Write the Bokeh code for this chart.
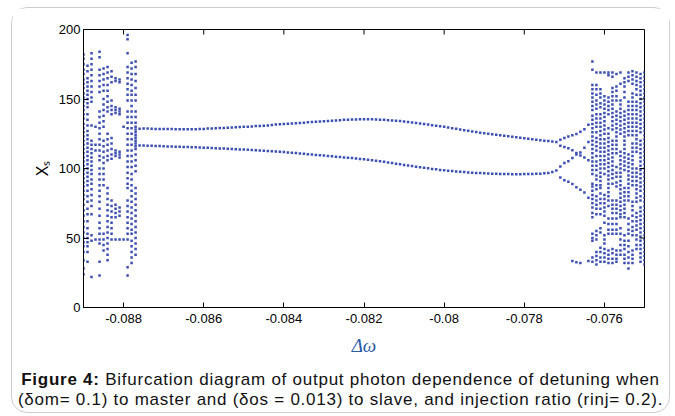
import math
from bokeh.plotting import figure
from bokeh.layouts import column
from bokeh.models import Range1d, FixedTicker, ColumnDataSource, Div
from bokeh.embed import file_html
from bokeh.resources import INLINE

# ---------------- data ----------------
step = 0.0001  # detuning sweep step

# chaotic band on the left: one string of X_s values per detuning column
left_x = [-0.0890, -0.0889, -0.0888, -0.0887, -0.0886, -0.0885, -0.0884,
          -0.0883, -0.0882, -0.0881, -0.0880, -0.0879, -0.0878, -0.0877]
left_cols = [
    "182 179 175 171 168 164 161 158 154 151 148 145 142 139 136 132 129 126 123 120 117 114 111 108 105 102 99 96 93 90 87 84 81 78 74 70 66 62 58 54 50 47 44 40 34 28 24",
    "174 170 165 162 159 156 153 150 147 144 139 135 131 127 124 121 118 115 112 109 106 103 100 97 94 91 88 84 80 76 71 67 62 57 53 50 47 44 40 33",
    "183 179 175 171 167 163 159 155 151 148 131 120 117 114 111 108 105 102 99 96 92 89 85 81 77 73 67 52 48 22",
    "130 117 113 49",
    "184 180 171 167 163 159 155 141 137 133 129 125 121 117 113 109 106 100 96 92 88 84 80 76 71 66 61 57 53 49 46 33 23",
    "172 168 164 160 156 150 146 142 138 134 130 120 116 112 108 104 100 96 92 88 53 49 45 41",
    "173 169 165 160 156 152 148 144 141 125 121 117 113 109 106 86 82 78 74 70 66 62 58 54 50 46 42 38 34",
    "170 166 162 149 145 142 139 122 118 114 110 107 77 73 69 65 61 57 53 49",
    "165 163 144 142 140 113 111 109 74 71 68 65 49",
    "164 162 143 141 139 112 110 108 72 69 66 49",
    "130 49",
    "196 193 183 173 169 165 161 157 153 149 141 137 133 129 125 121 117 113 109 105 101 97 93 89 86 77 73 69 65 61 57 53 49 29 23",
    "176 172 168 164 160 156 153 149 145 141 137 133 129 125 121 117 113 109 105 101 96 92 88 84 80 76 72 68 64 60 56 53 48 44 40 36 32",
    "177 173 168 163 158 153 149 141 137 133 130 128 126 124 122 120 118 116 114 110 106 102 98 86 82 78 74 70 66 62 58 54 50 46 42 38",
]

# period-2 window: detuning -0.0876 ... -0.0772
p2_start = -0.0876
p2_upper = [
    128.6, 128.8, 128.7, 128.6, 128.5, 128.5, 128.5, 128.4, 128.4, 128.3,
    128.3, 128.2, 128.2, 128.3, 128.3, 128.4, 128.5, 128.7, 128.8, 129.0,
    129.1, 129.2, 129.4, 129.5, 129.7, 129.8, 130.0, 130.1, 130.3, 130.5,
    130.6, 130.8, 131.0, 131.3, 131.6, 131.8, 132.0, 132.2, 132.4, 132.6,
    132.8, 133.0, 133.2, 133.4, 133.6, 133.8, 134.0, 134.2, 134.4, 134.6,
    134.8, 135.0, 135.1, 135.2, 135.3, 135.4, 135.5, 135.5, 135.4, 135.3,
    135.1, 135.0, 134.8, 134.6, 134.4, 134.1, 133.8, 133.5, 133.1, 132.8,
    132.4, 132.0, 131.6, 131.2, 130.8, 130.4, 130.0, 129.5, 129.0, 128.6,
    128.1, 127.6, 127.2, 126.7, 126.3, 125.8, 125.4, 125.0, 124.6, 124.2,
    123.9, 123.5, 123.2, 122.8, 122.5, 122.1, 121.7, 121.4, 121.0, 120.7,
    120.3, 120.0, 119.7, 119.4, 119.0]
p2_lower = [
    116.6, 116.5, 116.4, 116.3, 116.2, 116.1, 116.0, 115.9, 115.8, 115.7,
    115.6, 115.5, 115.4, 115.3, 115.2, 115.1, 115.0, 114.9, 114.7, 114.6,
    114.4, 114.3, 114.2, 114.0, 113.9, 113.7, 113.6, 113.4, 113.3, 113.1,
    113.0, 112.8, 112.6, 112.4, 112.2, 112.0, 111.8, 111.6, 111.3, 111.1,
    110.8, 110.6, 110.3, 110.1, 109.8, 109.6, 109.3, 109.0, 108.8, 108.5,
    108.3, 108.0, 107.7, 107.5, 107.2, 106.9, 106.6, 106.3, 105.9, 105.5,
    105.2, 104.8, 104.4, 104.0, 103.5, 103.1, 102.6, 102.2, 101.8, 101.3,
    100.9, 100.5, 100.1, 99.7, 99.4, 99.0, 98.7, 98.4, 98.2, 97.9,
    97.6, 97.4, 97.2, 97.0, 96.8, 96.7, 96.5, 96.4, 96.3, 96.2,
    96.1, 96.0, 96.0, 95.9, 95.9, 95.9, 96.0, 96.0, 96.1, 96.2,
    96.3, 96.5, 96.8, 97.4, 98.5]

# period-4 window: detuning -0.0771 ... -0.0764
p4_x = [-0.0771, -0.0770, -0.0769, -0.0768, -0.0767, -0.0766, -0.0765, -0.0764]
p4_b1 = [120.6, 122.0, 123.0, 124.0, 124.8, 126.4, 128.3, 131.4]
p4_b2 = [116.3, 115.4, 114.5, 113.2, 111.2, 109.3, 107.9, 106.0]
p4_b3 = [101.5, 104.0, 105.2, 107.5, 110.0, 111.5, 115.0, 119.0]
p4_b4 = [93.5, 91.5, 90.4, 88.8, 86.5, 84.7, 82.7, 79.0]
low_x = [-0.0768, -0.0767, -0.0766, -0.0764]
low_y = [33.5, 32.5, 32.0, 33.5]

# chaotic band on the right
right_x = [-0.0763, -0.0762, -0.0761, -0.0760, -0.0759, -0.0758, -0.0757,
           -0.0756, -0.0755, -0.0754, -0.0753, -0.0752, -0.0751, -0.0750]
right_cols = [
    "177 171 160 157 154 151 148 145 142 138 135 132 129 126 123 120 117 114 111 108 105 102 99 96 89 87 84 81 78 75 72 68 65 53 50 48 36 33",
    "169 160 157 153 149 146 143 139 136 133 130 126 122 119 116 113 109 105 102 99 95 92 88 85 80 77 74 71 67 55 52 49 40 37 34 31",
    "169 157 154 151 147 144 139 136 133 130 127 124 121 118 115 112 109 106 103 100 97 94 91 88 86 82 78 75 71 67 57 54 43 40 36 33",
    "169 152 149 146 143 140 137 134 131 128 125 121 118 115 112 109 106 103 100 96 81 78 75 72 69 66 61 52 49 46 42 39 36 33",
    "169 167 151 148 145 142 139 129 125 122 119 116 113 110 107 104 101 98 95 92 89 86 83 80 77 73 64 60 56 53 41 38 35 32",
    "169 166 158 155 152 149 146 143 140 137 134 131 128 120 117 114 111 108 105 102 99 96 93 89 77 74 71 68 64 60 56 53 42 39 35 32",
    "168 159 156 152 149 141 138 135 132 129 126 123 120 117 114 111 101 97 94 90 87 77 74 71 68 64 60 56 53 41 38 35 33",
    "169 161 149 146 143 140 137 134 131 128 125 112 109 106 103 100 97 94 91 88 85 82 79 76 73 70 67 65 57 53 49 45 41 38",
    "165 162 159 155 151 141 138 135 132 129 126 123 120 117 114 111 108 105 102 99 86 83 80 77 74 71 68 65 52 48 45 42 38 35 32",
    "169 166 163 148 145 142 139 136 133 130 127 124 110 107 104 101 98 95 92 89 86 83 80 77 64 60 56 53 48 44 40 36 32 28",
    "170 167 164 161 154 151 148 145 142 139 136 133 130 127 124 118 115 112 109 106 103 100 97 94 91 88 76 73 70 66 62 58 55 52 41 38 35 32",
    "169 166 163 160 157 153 148 145 142 139 136 133 130 127 124 121 118 115 112 100 97 94 91 88 85 82 79 76 68 65 62 59 56 52 49 45 42",
    "168 165 162 159 156 153 150 147 144 141 138 135 132 129 126 120 117 114 111 108 105 102 99 96 93 90 87 84 80 77 72 69 66 63 60 57 54 51 48 45 42 39 36 33",
    "169 166 163 160 157 154 151 148 145 142 139 136 133 130 127 124 121 118 115 112 109 106 103 100 97 94 91 88 85 82 79 76 73 70 67 64 61 58 55 52 49 46 43 40 37 34 31",
]

x_ticks = [-0.088, -0.086, -0.084, -0.082, -0.080, -0.078, -0.076]
x_tick_labels = ["-0.088", "-0.086", "-0.084", "-0.082", "-0.08", "-0.078", "-0.076"]
y_ticks = [0, 50, 100, 150, 200]
x_lo, x_hi = -0.089, -0.075
y_lo, y_hi = 0, 200

x_title = "Δω"
y_title = "X\u209b"
caption_bold = "Figure 4:"
caption_line1 = "Bifurcation diagram of output photon dependence of detuning when"
caption_line2 = "(δom= 0.1) to master and (δos = 0.013) to slave, and injection ratio (rinj= 0.2)."

# ---------------- assemble points ----------------
xs, ys = [], []
for cx, col in zip(left_x, left_cols):
    for v in col.split():
        xs.append(cx); ys.append(float(v))
for k, (u, l) in enumerate(zip(p2_upper, p2_lower)):
    cx = round(p2_start + k * step, 5)
    xs += [cx, cx]; ys += [u, l]
for i, cx in enumerate(p4_x):
    for b in (p4_b1, p4_b2, p4_b3, p4_b4):
        xs.append(cx); ys.append(b[i])
xs += low_x; ys += low_y
for cx, col in zip(right_x, right_cols):
    for v in col.split():
        xs.append(cx); ys.append(float(v))

src = ColumnDataSource(dict(x=xs, y=ys))

# ---------------- figure ----------------
FONT = "Liberation Sans"
W, H = 657, 360
p = figure(width=W, height=H, output_backend="svg", toolbar_location=None,
           x_range=Range1d(x_lo, x_hi), y_range=Range1d(y_lo, y_hi),
           min_border_left=71, min_border_right=25, min_border_top=21,
           min_border_bottom=61, outline_line_color="black",
           background_fill_color="white", border_fill_color="white", margin=0)
p.grid.visible = False

p.scatter("x", "y", source=src, marker="square", size=2.5,
          fill_color="#3b4fb3", line_color=None)

# mirrored inward ticks on the top and right edges (dash markers cut by the frame)
p.scatter(x_ticks, [y_hi] * len(x_ticks), marker="dash", angle=math.pi / 2,
          size=10, line_color="black", line_width=1)
p.scatter([x_hi] * len(y_ticks), y_ticks, marker="dash", size=10,
          line_color="black", line_width=1)

def style_axis(ax):
    ax.major_tick_in = 5
    ax.major_tick_out = 0
    ax.minor_tick_in = 0
    ax.minor_tick_out = 0
    ax.axis_line_color = "black"
    ax.major_tick_line_color = "black"
    ax.major_label_text_font = FONT
    ax.major_label_text_font_size = "13px"
    ax.major_label_text_color = "black"

xa = p.xaxis[0]
xa.ticker = FixedTicker(ticks=x_ticks)
xa.major_label_overrides = {t: s for t, s in zip(x_ticks, x_tick_labels)}
style_axis(xa)
xa.major_label_standoff = 6
xa.axis_label = x_title
xa.axis_label_text_font = "Liberation Serif"
xa.axis_label_text_font_style = "italic"
xa.axis_label_text_font_size = "19px"
xa.axis_label_text_color = "#2a5ca8"
xa.axis_label_standoff = 9

ya = p.yaxis[0]
ya.ticker = FixedTicker(ticks=y_ticks)
style_axis(ya)
ya.major_label_standoff = 3
ya.axis_label = y_title
ya.axis_label_text_font = FONT
ya.axis_label_text_font_style = "normal"
ya.axis_label_text_font_size = "16px"
ya.axis_label_text_color = "black"
ya.axis_label_standoff = 5

caption = Div(
    text=f"<b>{caption_bold}</b> {caption_line1}<br>{caption_line2}",
    width=W, height=44, margin=0,
    styles={"font-family": "'Liberation Sans', Arial, sans-serif", "font-size": "17px",
            "line-height": "20px", "letter-spacing": "0.75px", "text-align": "center",
            "color": "#111111", "padding-top": "2px", "white-space": "nowrap",
            "box-sizing": "border-box"})

layout = column(p, caption, margin=(7, 0, 0, 11), spacing=0,
                styles={"border": "1px solid #cdcdcd", "border-radius": "16px",
                        "background-color": "white"})

open("out.html", "w").write(file_html(layout, INLINE))
